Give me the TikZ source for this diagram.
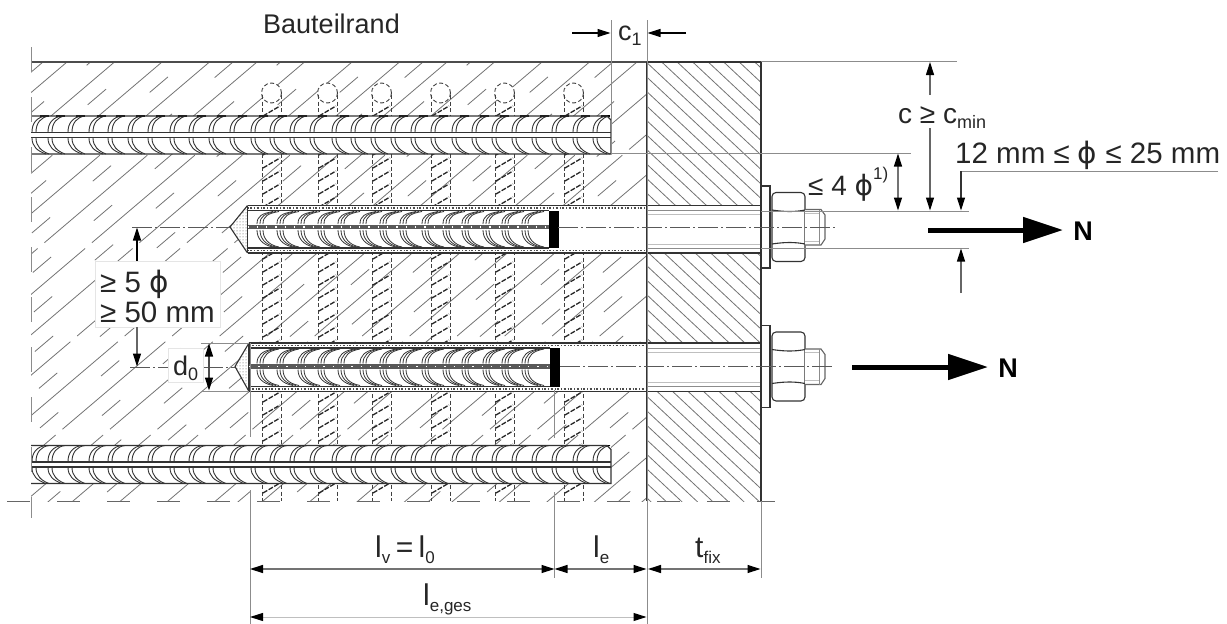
\documentclass[tikz,border=0pt]{standalone}
\usepackage{fontspec}
\setmainfont{Liberation Sans}
\newfontfamily\phifont{DejaVu Sans}
\usetikzlibrary{arrows.meta,patterns}

\newcommand{\dphi}{{\phifont ϕ}}
\newcommand{\idx}[1]{\raisebox{-.2em}{\fontsize{18}{18}\selectfont #1}}
\newcommand{\lidx}[1]{\raisebox{-.2em}{\fontsize{17}{17}\selectfont #1}}
\tikzset{
	dimtext/.style={font=\fontsize{27}{30}\selectfont, inner sep=0pt, anchor=base west, text=black!85},
	midtext/.style={dimtext, font=\fontsize{28}{30}\selectfont},
	bigtext/.style={dimtext, font=\fontsize{29.5}{32}\selectfont},
	lentext/.style={dimtext, font=\fontsize{30}{32}\selectfont},
	forcetext/.style={font=\fontsize{27}{30}\selectfont\bfseries, inner sep=0pt},
	whitebox/.style={draw=black!10, fill=white, inner sep=0pt},
	dimline/.style={draw=black!55, line width=1.3pt, {Triangle[length=13pt,width=8pt,black]}-{Triangle[length=13pt,width=8pt,black]}},
	dimhead/.style={draw=black!60, line width=1.1pt, -{Triangle[length=13pt,width=8pt,black]}},
	extline/.style={draw=black!45, line width=1pt},
	axisline/.style={draw=black!65, line width=1pt, dash pattern=on 20pt off 3pt on 2pt off 3pt},
	forcearrow/.style={draw=black, line width=5pt, -{Triangle[length=40pt,width=25pt]}},
	outline/.style={draw=black!80, line width=1.6pt},
	barline/.style={draw=black!80, line width=1.1pt},
	hatchline/.style={draw=black!55, line width=.8pt},
	stirrup/.style={draw=black!75, line width=.9pt, dash pattern=on 4pt off 2.5pt},
	stirruprib/.style={draw=black!85, line width=1.3pt, dash pattern=on 5pt off 1.5pt},
	mortar/.style={draw=black!70, line width=1.2pt, dash pattern=on 1pt off 1.5pt on 2pt off 2pt},
}

% reinforcing bar along the concrete, #1 = centre height
\newcommand{\drawrebar}[1]{
	\fill[white] (31,#1-19) rectangle (611,#1+19);
	\foreach \ribx in {32,48,68,89,108,128,148,170,189,209,230,251,270,290,310,332,351,371,391,411,431,452,472,492,512,532,552,573,593} {
		\draw[barline, line width=.9pt] (\ribx,#1-3) .. controls (\ribx,#1-12) and (\ribx+5,#1-18) .. (\ribx+14,#1-19);
		\draw[barline, line width=.9pt] (\ribx+4,#1-3) .. controls (\ribx+4,#1-12) and (\ribx+9,#1-18) .. (\ribx+17,#1-19);
		\draw[barline, line width=.9pt] (\ribx,#1+3) .. controls (\ribx,#1+11) and (\ribx+5,#1+16) .. (\ribx+14,#1+19);
		\draw[barline, line width=.9pt] (\ribx+4,#1+3) .. controls (\ribx+4,#1+11) and (\ribx+9,#1+16) .. (\ribx+17,#1+19);
		\draw[draw=black, line width=1.8pt] (\ribx+8,#1-19) -- (\ribx+17,#1-19);
	}
	\draw[barline] (31,#1-19) -- (607,#1-19) -- (611,#1-15) -- (611,#1+19) -- (31,#1+19);
	\draw[barline] (31,#1-2.5) -- (611,#1-2.5);
	\draw[barline] (31,#1+2.5) -- (611,#1+2.5);
}

% anchor: #1 axis, #2 top of hole, #3 bottom of hole, #4 drill tip, #5 hole start, #6 black plug
\newcommand{\drawanchor}[6]{
	\fill[white] (#5,#2) rectangle (761,#3);
	\fill[white] (#5,#2) -- (#4,#1) -- (#5,#3) -- cycle;
	\fill[pattern=dots, pattern color=black!70] (#5,#2) -- (#4,#1) -- (#5,#3) -- cycle;
	\draw[barline] (#5,#2) -- (#4,#1) -- (#5,#3);
	\draw[mortar] (#5,#2+2.5) -- (647,#2+2.5);
	\draw[mortar] (#5,#3-2.5) -- (647,#3-2.5);
	\draw[barline] (#5,#2) -- (#5,#3);
	\draw[barline] (#5,#2) -- (761,#2);
	\draw[barline] (#5,#3) -- (761,#3);
	\draw[barline] (#5,#2+5) -- (#6,#2+5);
	\draw[barline] (#5,#3-5) -- (#6,#3-5);
	\draw[extline] (647,#2+5) -- (761,#2+5);
	\draw[extline] (647,#3-5) -- (761,#3-5);
	\draw[extline, draw=black!25] (647,#2+9) -- (761,#2+9);
	\draw[extline, draw=black!25] (647,#3-9) -- (761,#3-9);
	\foreach \ribx in {257,277,298,318,338,360,380,400,422,443,462,483,502,522} {
		\foreach \ribo in {0,3,6} {
			\draw[barline, line width=.8pt] (\ribx+\ribo,#1-3) .. controls (\ribx+\ribo,#1-11) and (\ribx+\ribo+5,#2+8) .. (\ribx+\ribo+16,#2+6);
			\draw[barline, line width=.8pt] (\ribx+\ribo,#1+3) .. controls (\ribx+\ribo,#1+11) and (\ribx+\ribo+5,#3-8) .. (\ribx+\ribo+16,#3-6);
		}
	}
	\draw[draw=black!65, line width=4.5pt] (#5,#1) -- (#6,#1);
	\draw[draw=white, line width=1.3pt, dash pattern=on 1.3pt off 8pt] (#5,#1) -- (#6,#1);
	\fill[black] (#6,#2+5) rectangle (#6+9.5,#3-5);
	% washer, nut and bolt end
	\draw[barline, fill=white] (761,#1-41) rectangle (770,#1+41);
	\draw[barline, fill=white, rounded corners=4pt] (772,#1-34.5) rectangle (805,#1+34.5);
	\draw[barline] (772,#1-17) .. controls (785,#1-15) and (795,#1-15) .. (805,#1-17);
	\draw[barline] (772,#1+17) .. controls (785,#1+15) and (795,#1+15) .. (805,#1+17);
	\draw[barline, draw=black!60, fill=white] (805,#1-17.5) -- (821,#1-17.5) -- (825,#1-12) -- (825,#1+12) -- (821,#1+18) -- (805,#1+18);
	\draw[extline] (819,#1-17.5) -- (819,#1+18);
	\draw[extline, draw=black!25] (805,#1-14) -- (819,#1-14);
	\draw[extline, draw=black!25] (805,#1+14) -- (819,#1+14);
}

\begin{document}
\begin{tikzpicture}[x=1pt, y=-1pt]
	\useasboundingbox (0,0) rectangle (1227,624);

	% concrete hatching
	\begin{scope}
		\clip (31,62) rectangle (647,501);
		\foreach \hx in {0,...,24} {
			\pgfmathsetmacro{\hph}{int(mod(\hx,4)*19)}
			\draw[hatchline, dash pattern=on 135pt off 9pt] (19.5+47.5*\hx,62) -- (19.5+47.5*\hx-600,572);
			\draw[hatchline, dash pattern=on 24pt off 56pt, dash phase=\hph pt] (43+47.5*\hx,62) -- (43+47.5*\hx-600,572);
		}
	\end{scope}

	% stirrups behind the bars
	\foreach \sx in {262,318,372,431,495,564} {
		\draw[stirrup, fill=white] (\sx+9.5,93) circle (10);
		\draw[stirrup] (\sx,95) -- (\sx,501);
		\draw[stirrup] (\sx+19,95) -- (\sx+19,501);
		\foreach \sy in {111,124,...,500} {
			\draw[stirruprib] (\sx+1,\sy+5) -- (\sx+18,\sy-5);
		}
	}

	\drawrebar{135}
	\drawrebar{464.5}

	% fixture plate
	\begin{scope}
		\clip (647,62) rectangle (761,501);
		\foreach \hx in {0,...,38} {
			\draw[hatchline] (181.2+15.5*\hx,62) -- (181.2+15.5*\hx+470,502);
		}
	\end{scope}

	\drawanchor{227}{205.5}{253}{230}{247.5}{549}
	\drawanchor{366.5}{343}{391.5}{235}{249}{550}

	% outline of concrete and plate
	\draw[outline, draw=black!70] (31,62) -- (647,62);
	\draw[outline] (647,62) -- (761,62) -- (761,501);
	\draw[outline] (647,62) -- (647,501);
	\draw[extline, dash pattern=on 25pt off 25pt] (31,47) -- (31,518);
	\draw[extline, draw=black!60, dash pattern=on 23pt off 27pt] (7,501) -- (775,501);

	% extension lines
	\draw[extline] (611,20) -- (611,153);
	\draw[extline] (647,20) -- (647,624);
	\draw[extline] (761,61) -- (957,61);
	\draw[extline] (611,153) -- (911,153);
	\draw[extline] (761,211) -- (969,211);
	\draw[extline] (761,248) -- (969,248);
	\draw[extline] (761,501) -- (761,578);
	\draw[extline] (250,343) -- (250,437);
	\draw[extline] (250,490) -- (250,624);
	\draw[extline] (554.5,390) -- (554.5,438);
	\draw[extline] (554.5,492) -- (554.5,578);
	\draw[extline] (201,343) -- (249,343);
	\draw[extline] (201,391) -- (249,391);

	% axes
	\draw[axisline] (558,227) -- (835,227);
	\draw[axisline] (560,366.5) -- (833,366.5);
	\draw[axisline] (132,227) -- (230,227);
	\draw[axisline] (130,367) -- (168,367);
	\draw[axisline] (203,367) -- (235,367);

	% white fields for the labels
	\node[whitebox, minimum width=125pt, minimum height=66pt] (box5) at (157.5,294) {};
	\node[whitebox, minimum width=35pt, minimum height=34pt] (box0) at (185.5,365) {};

	% labels
	\node[dimtext] (rand) at (263,33) {Bauteilrand};
	\node[dimtext] (c1) at (618,40) {c\idx{1}};
	\node[midtext] (cc) at (898,123) {c ≥ c\idx{min}};
	\node[bigtext] (dia) at (955,163) {12 mm ≤ \dphi\ ≤ 25 mm};
	\node[midtext] (four) at (808,195) {≤ 4 \dphi\raisebox{.55em}{\fontsize{17}{17}\selectfont 1)}};
	\node[bigtext] (five) at (100,292) {≥ 5 \dphi};
	\node[bigtext] (fifty) at (100,322) {≥ 50 mm};
	\node[dimtext] (d0) at (173,375) {d\idx{0}};
	\node[lentext] (lv) at (375,557) {l\lidx{v}\hspace{.18em}=\hspace{.18em}l\lidx{0}};
	\node[lentext] (le) at (593,557) {l\lidx{e}};
	\node[lentext] (tfix) at (695,557) {t\lidx{fix}};
	\node[lentext] (lges) at (423,605) {l\lidx{e,ges}};
	\node[forcetext] (n1) at (1083,231) {N};
	\node[forcetext] (n2) at (1008,368) {N};

	% force arrows
	\coordinate (f1) at (928,230);
	\coordinate (f1t) at (1063,230);
	\coordinate (f2) at (852,367);
	\coordinate (f2t) at (988,367);
	\draw[forcearrow] (f1) -- (f1t);
	\draw[forcearrow] (f2) -- (f2t);

	% dimensions
	\coordinate (c1a) at (572,33);
	\coordinate (c1b) at (610.5,33);
	\coordinate (c1c) at (686,33);
	\coordinate (c1d) at (647.5,33);
	\draw[dimhead, draw=black] (c1a) -- (c1b);
	\draw[dimhead, draw=black] (c1c) -- (c1d);

	\coordinate (ca) at (930,95);
	\coordinate (cb) at (930,62);
	\coordinate (cc1) at (930,128);
	\coordinate (cc2) at (930,210.5);
	\draw[dimhead] (ca) -- (cb);
	\draw[dimhead] (cc1) -- (cc2);

	\coordinate (fa) at (898,153.5);
	\coordinate (fb) at (898,210.5);
	\draw[dimline] (fa) -- (fb);

	\coordinate (dl) at (1218,171);
	\coordinate (dm) at (961,171);
	\coordinate (dt) at (961,210.5);
	\coordinate (du) at (961,293);
	\coordinate (dv) at (961,248.5);
	\draw[extline] (dl) -- (dm);
	\draw[dimhead, draw=black!80] (dm) -- (dt);
	\draw[dimhead] (du) -- (dv);

	\coordinate (fvb) at (137,227.5);
	\coordinate (fvd) at (137,366.5);
	\draw[dimhead, draw=black] (box5.north -| fvb) -- (fvb);
	\draw[dimhead] (box5.south -| fvd) -- (fvd);

	\coordinate (doa) at (209,343.5);
	\coordinate (dob) at (209,390.5);
	\draw[dimline, draw=black!70] (doa) -- (dob);

	\coordinate (la) at (250,569);
	\coordinate (lb) at (554.5,569);
	\coordinate (lc) at (646.5,569);
	\coordinate (ld) at (648,569);
	\coordinate (lf) at (760.5,569);
	\coordinate (lg) at (250,617);
	\coordinate (lh) at (646.5,617);
	\draw[dimline] (la) -- (lb);
	\draw[dimline] (lb) -- (lc);
	\draw[dimline] (ld) -- (lf);
	\draw[dimline, draw=black!25, line width=1pt] (lg) -- (lh);
\end{tikzpicture}
\end{document}
